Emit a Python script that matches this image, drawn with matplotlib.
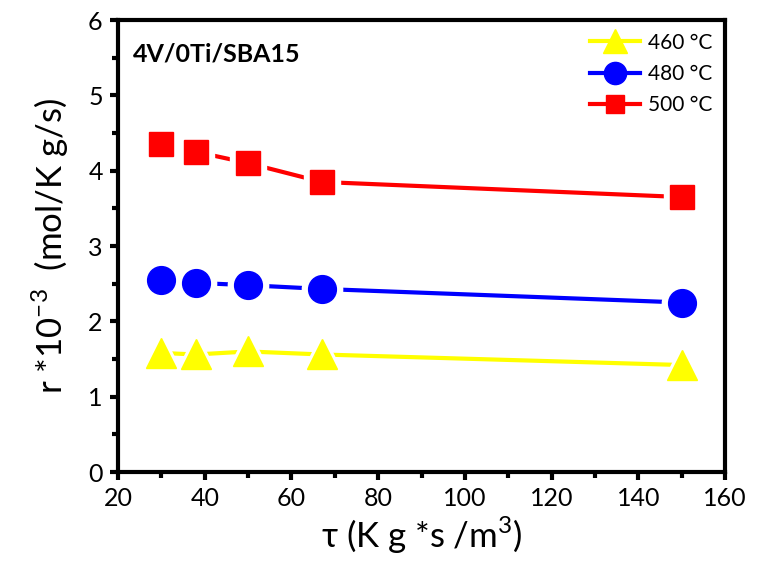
import matplotlib
matplotlib.use("Agg")
import matplotlib.pyplot as plt
from matplotlib.ticker import MultipleLocator

plt.rcParams["font.family"] = ["Lato", "DejaVu Sans"]
plt.rcParams["mathtext.fontset"] = "custom"
plt.rcParams["mathtext.rm"] = "Lato"

tau = [30, 38, 50, 67, 150]
r_460 = [1.58, 1.56, 1.60, 1.56, 1.42]
r_480 = [2.55, 2.51, 2.48, 2.43, 2.25]
r_500 = [4.35, 4.25, 4.10, 3.85, 3.65]

series = [
    ("460 °C", r_460, "#ffff00", "^", 22),
    ("480 °C", r_480, "#0000ff", "o", 20),
    ("500 °C", r_500, "#ff0000", "s", 17),
]

fig = plt.figure(figsize=(7.58, 5.65), dpi=100)
ax = fig.add_axes([0.1557, 0.1646, 0.8008, 0.8000])

handles = []
for label, ys, col, mk, ms in series:
    ax.plot(tau, ys, color=col, lw=3, zorder=2)
    # white halo so the connecting line stops short of each symbol
    ax.plot(tau, ys, ls="none", marker=mk, ms=ms + 9, color="white",
            mec="white", zorder=3)
for label, ys, col, mk, ms in series:
    ax.plot(tau, ys, ls="none", marker=mk, ms=ms, color=col, mec=col, zorder=4)
    h, = ax.plot([], [], color=col, lw=3, marker=mk, ms=ms * 0.8,
                 mec=col, label=label)
    handles.append(h)

ax.set_xlim(20, 160)
ax.set_ylim(0, 6)
ax.xaxis.set_major_locator(MultipleLocator(20))
ax.xaxis.set_minor_locator(MultipleLocator(10))
ax.yaxis.set_major_locator(MultipleLocator(1))
ax.yaxis.set_minor_locator(MultipleLocator(0.5))

for sp in ax.spines.values():
    sp.set_linewidth(3)
ax.tick_params(which="major", direction="out", length=6, width=3,
               labelsize=18, pad=5)
ax.tick_params(which="minor", direction="out", length=4, width=3)
ax.tick_params(which="both", top=False, right=False)

ax.set_xlabel(r"τ (K g *s /m$^{3}$)", fontsize=25, labelpad=3)
ax.set_ylabel(r"r *10$^{-3}$  (mol/K g/s)", fontsize=25, labelpad=12)

ax.text(0.025, 0.95, "4V/0Ti/SBA15", transform=ax.transAxes,
        fontsize=18, fontweight="bold", va="top", ha="left")

ax.legend(handles=handles, loc="upper right", frameon=False, fontsize=15,
          handlelength=2.4, borderaxespad=0.2, labelspacing=0.55,
          handletextpad=0.4)

fig.savefig("out.png", dpi=100)
